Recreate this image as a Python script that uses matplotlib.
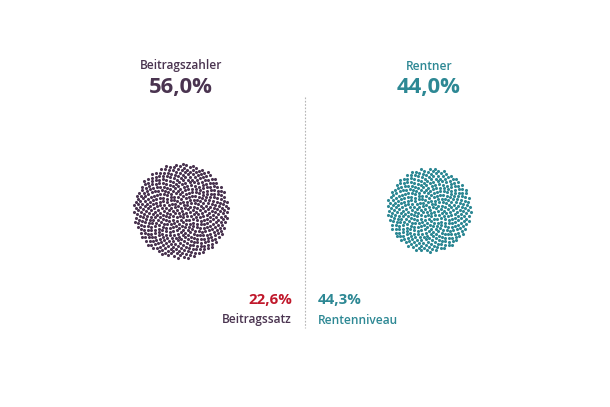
# Beitragszahler vs. Rentner, dot circles
import numpy as np
from matplotlib import pyplot as plt

groups = ['Beitragszahler', 'Rentner']
shares = ['56,0%', '44,0%']
dot_counts = [560, 440]
rates = ['22,6%', '44,3%']
rate_labels = ['Beitragssatz', 'Rentenniveau']

purple = '#4a3450'
teal = '#2d8894'
red = '#c0182b'

plt.rcParams['font.family'] = ['Open Sans', 'DejaVu Sans']

fig = plt.figure(figsize=(6.1, 4.07), dpi=100)
ax = fig.add_axes([0, 0, 1, 1])
ax.set_xlim(0, 610)
ax.set_ylim(407, 0)
ax.axis('off')

centers = [(181, 211), (429, 210)]
colors = [purple, teal]
golden = np.pi * (3 - np.sqrt(5))

for (cx, cy), n, col in zip(centers, dot_counts, colors):
    # sunflower layout, circle area follows the count
    radius = 47.5 * np.sqrt(n / dot_counts[0])
    idx = np.arange(n)
    r = radius * np.sqrt((idx + 0.5) / n)
    th = idx * golden
    ax.scatter(cx + r * np.cos(th), cy + r * np.sin(th), s=5, c=col,
               linewidths=0)

for (cx, cy), name, share, col in zip(centers, groups, shares, colors):
    ax.text(cx, 66, name, ha='center', va='center', fontsize=8.6,
            fontweight='semibold', color=col)
    ax.text(cx, 87, share, ha='center', va='center', fontsize=15.8,
            fontweight='bold', color=col)

# divider
ax.plot([305, 305], [97, 328], color='#b5b5b5', lw=0.8, ls=(0, (1.5, 1.5)))

ax.text(292, 300, rates[0], ha='right', va='center', fontsize=10.8,
        fontweight='bold', color=red)
ax.text(292, 320, rate_labels[0], ha='right', va='center', fontsize=8.6,
        fontweight='semibold', color=purple)
ax.text(318, 300, rates[1], ha='left', va='center', fontsize=10.8,
        fontweight='bold', color=teal)
ax.text(318, 320, rate_labels[1], ha='left', va='center', fontsize=8.6,
        fontweight='semibold', color=teal)

fig.savefig('out.png', dpi=100, facecolor='white')
